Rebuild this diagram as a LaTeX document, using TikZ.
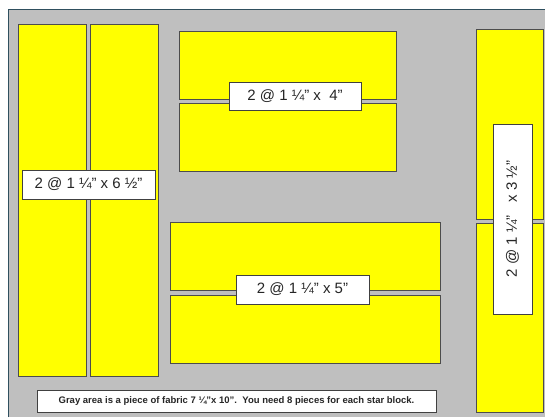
\documentclass[tikz,border=0pt]{standalone}
\usepackage{fontspec}
\setmainfont{Liberation Sans}
\usepackage{tikz}
\definecolor{fabric}{HTML}{BFBFBF}
\definecolor{edge}{HTML}{2F4F5F}
\definecolor{strip}{HTML}{FFFF00}
\definecolor{ink}{HTML}{262626}
\tikzstyle{piece} = [draw=black!70, fill=strip, rectangle, line width=0.8pt, inner sep=0pt]
\tikzstyle{sizebox} = [draw=black!75, fill=white, rectangle, line width=0.8pt, inner sep=0pt, text=ink, font=\fontsize{15}{18}\selectfont]
\tikzstyle{notebox} = [sizebox, font=\bfseries\fontsize{9.5}{11}\selectfont]

\begin{document}
\begin{tikzpicture}[x=1pt, y=-1pt]
    \useasboundingbox (0, 0) rectangle (545, 417);

    % Piece of fabric.
    \fill [fabric] (8, 10) rectangle (545, 417);
    \draw [edge, line width=1pt] (8, 417) -- (8, 10) -- (545, 10);

    % All strips.
    \foreach \n/\x/\y/\w/\h in {1/52/200/68/352, 2/124/200/68/352,
            3/287.5/65/217/68, 4/287.5/137/217/68,
            5/305/256/270/68, 6/305/329/270/68,
            7/509.5/124/67/190, 8/509.5/317.5/67/189} {
        \node (piece \n) [piece, minimum width=\w, minimum height=\h] at (\x, \y) {};
    }

    % Sizes.
    \node (size a) [sizebox, minimum width=133, minimum height=29] at (88.5, 184.5) {2 @ 1 ¼” x 6 ½”};
    \node (size b) [sizebox, minimum width=132, minimum height=28] at (295, 96) {2 @ 1 ¼” x\ \ 4”};
    \node (size c) [sizebox, minimum width=133, minimum height=29] at (302.5, 289.5) {2 @ 1 ¼” x 5”};
    \node (size d) [sizebox, minimum width=190, minimum height=39, rotate=90] at (512.5, 219) {2 @ 1 ¼”\ \ \ x 3 ½”};

    % Note.
    \node (note) [notebox, minimum width=399, minimum height=22] at (236.5, 401) {Gray area is a piece of fabric 7 ¼"x 10".\ \ You need 8 pieces for each star block.};
\end{tikzpicture}
\end{document}
